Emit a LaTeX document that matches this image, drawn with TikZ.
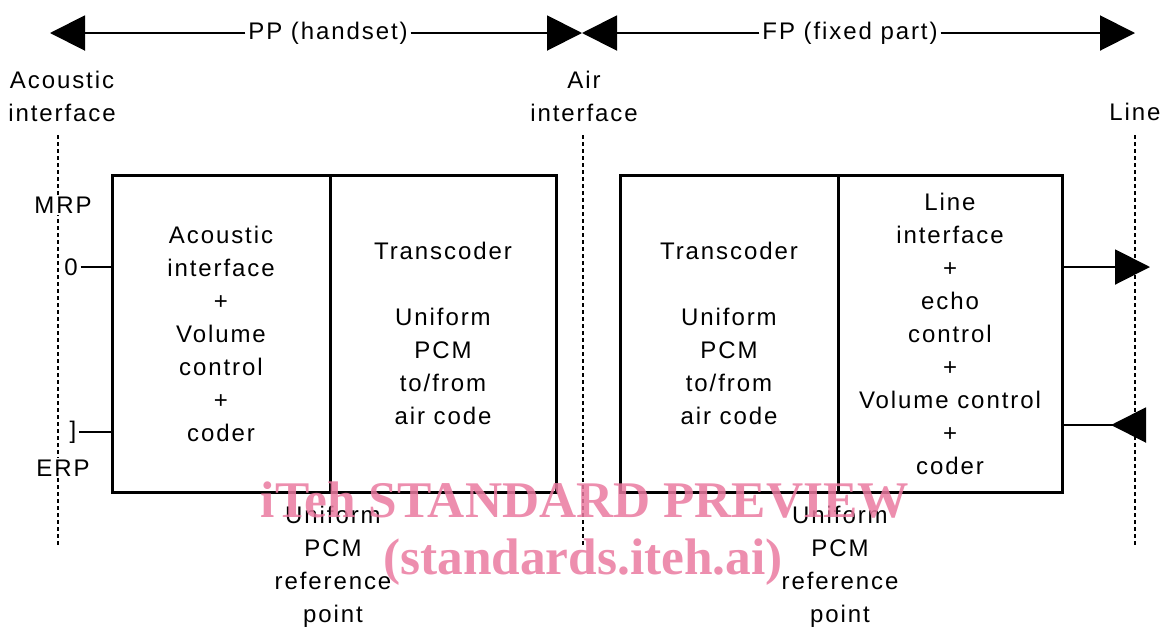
\documentclass[tikz,border=0pt]{standalone}
\usepackage{fontspec}
\setmainfont{Liberation Sans}[LetterSpace=8]
\newfontfamily\wmfont{Liberation Serif}
\usetikzlibrary{arrows.meta}
\definecolor{wmpink}{RGB}{234,122,160}
\begin{document}
\begin{tikzpicture}
  [x=0.5pt,y=-0.5pt,line width=1pt,
   every node/.style={font=\fontsize{12}{16.5}\selectfont,align=center,inner sep=1pt},
   cell/.style={draw,line width=1.5pt,minimum height=158.5pt,inner sep=0pt},
   iface/.style={dash pattern=on 2pt off 1.5pt,line width=0.8pt},
   tip/.style={-{Triangle[length=17.5pt,width=17.5pt]}},
   rtip/.style={-{Triangle[length=17.5pt,width=17.5pt,reversed]}},
   reflabel/.style={fill=white},
   wm/.style={font=\wmfont\bfseries\fontsize{25.7}{30}\selectfont,text=wmpink,text opacity=.85}]
  \useasboundingbox (0,0) rectangle (1162,633);

  % interfaces
  \foreach \x in {58,583,1135}
    \draw[iface] (\x,135) -- (\x,545);
  \node (acif)   at (62,96)   {Acoustic\\interface};
  \node (airif)  at (584,96)  {Air\\interface};
  \node (lineif) at (1135,112) {Line};

  % PP / FP extent
  \node (pp) at (328,33) {PP (handset)};
  \node (fp) at (850,33) {FP (fixed part)};
  \coordinate (ppl) at (50,33);
  \coordinate (mid) at (582,33);
  \coordinate (fpr) at (1135,33);
  \draw[tip] (pp) -- (ppl);
  \draw[tip] (pp) -- (mid);
  \draw[tip] (fp) -- (mid);
  \draw[tip] (fp) -- (fpr);

  % blocks
  \node[cell,minimum width=109pt] (ppac) at (221,333.5)
    {Acoustic\\interface\\+\\Volume\\control\\+\\coder};
  \node[cell,minimum width=113pt] (pptc) at (443,333.5)
    {Transcoder\\ \\Uniform\\PCM\\to/from\\air code};
  \node[cell,minimum width=109pt] (fptc) at (729,333.5)
    {Transcoder\\ \\Uniform\\PCM\\to/from\\air code};
  \node[cell,minimum width=112pt] (fpli) at (950,333.5)
    {Line\\interface\\+\\echo\\control\\+\\Volume control\\+\\coder};

  % reference points
  \node[reflabel] (mrp) at (63,205) {MRP};
  \node[reflabel] (erp) at (63,468) {ERP};
  \node (zero)  at (71,267) {0};
  \node (erpbr) at (73,432) {]};
  \draw (zero) -- (zero -| ppac.west);
  \draw (erpbr) -- (erpbr -| ppac.west);

  \node (ppref) at (333,567) {Uniform\\PCM\\reference\\point};
  \node (fpref) at (840,567) {Uniform\\PCM\\reference\\point};

  % line side
  \coordinate (lineout) at (1150,267);
  \coordinate (linein)  at (1146,425);
  \draw[tip]  (fpli.east |- lineout) -- (lineout);
  \draw[rtip] (fpli.east |- linein) -- (linein);

  \node[wm] (wm1) at (585,500) {iTeh STANDARD PREVIEW};
  \node[wm] (wm2) at (583,562) {(standards.iteh.ai)};

\end{tikzpicture}
\end{document}
